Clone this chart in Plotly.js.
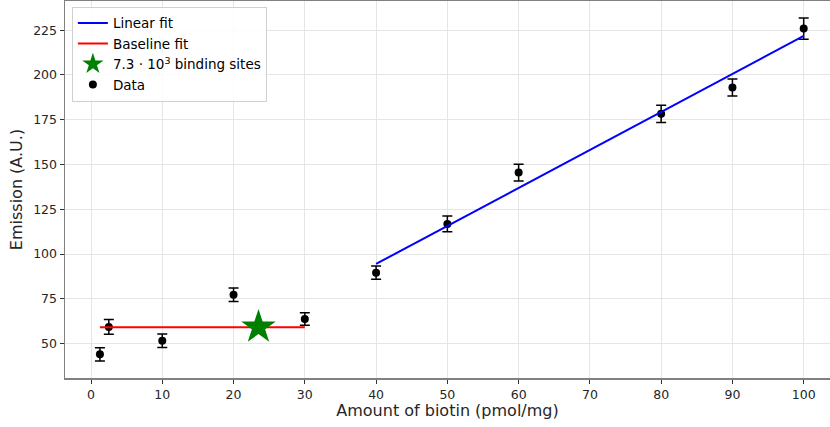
<!DOCTYPE html>
<html>
<head>
<meta charset="utf-8">
<script src="https://cdn.plot.ly/plotly-3.0.1.min.js"></script>
<style>html,body{margin:0;padding:0;background:#fff;}#chart{width:830px;height:427px;}</style>
</head>
<body>
<div id="chart"></div>
<script>
// Data
const biotin = [1.25, 2.5, 10, 20, 30, 40, 50, 60, 80, 90, 100];
const emission = [44.0, 59.3, 51.6, 77.3, 63.7, 89.6, 116.8, 145.5, 178.3, 193.0, 225.9];
const emissionErr = [3.7, 4.1, 3.8, 3.8, 3.5, 3.7, 4.4, 4.7, 4.8, 4.7, 5.9];
const linearFitX = [40, 100];
const linearFitY = [94.5, 221.8];
const baselineFitX = [1.25, 30];
const baselineFitY = [59.2, 59.2];
const bindingX = [23.5];
const bindingY = [59.2];
const xTicks = [0, 10, 20, 30, 40, 50, 60, 70, 80, 90, 100];
const yTicks = [50, 75, 100, 125, 150, 175, 200, 225];

const font = 'DejaVu Sans, Liberation Sans, sans-serif';

const traces = [
  {
    x: biotin, y: emission, type: 'scatter', mode: 'markers', name: 'Data',
    legendrank: 4,
    marker: {color: '#000000', size: 8},
    error_y: {type: 'data', array: emissionErr, visible: true, color: '#000000', thickness: 1.5, width: 5}
  },
  {
    x: linearFitX, y: linearFitY, type: 'scatter', mode: 'lines', name: 'Linear fit',
    legendrank: 1,
    line: {color: '#0000ff', width: 2}
  },
  {
    x: baselineFitX, y: baselineFitY, type: 'scatter', mode: 'lines', name: 'Baseline fit',
    legendrank: 2,
    line: {color: '#ff0000', width: 2}
  },
  {
    x: bindingX, y: bindingY, type: 'scatter', mode: 'markers',
    name: '7.3 · 10<sup>3</sup> binding sites',
    legendrank: 3,
    marker: {color: '#008000', size: 26, symbol: 'star', line: {width: 0}}
  }
];

const layout = {
  width: 830, height: 427,
  margin: {l: 65, r: 0, t: 1, b: 49},
  paper_bgcolor: '#ffffff', plot_bgcolor: '#ffffff',
  font: {family: font, size: 13, color: '#262626'},
  showlegend: true,
  legend: {
    x: 0.009, y: 0.985, xanchor: 'left', yanchor: 'top',
    bgcolor: 'rgba(255,255,255,0.85)', bordercolor: '#d0d0d0', borderwidth: 1,
    font: {family: font, size: 13.5, color: '#000000'},
    tracegroupgap: 0, itemwidth: 30
  },
  xaxis: {
    range: [-3.65, 103.69],
    tickvals: xTicks, ticktext: xTicks.map(String),
    showgrid: true, gridcolor: '#e5e5e5', gridwidth: 1,
    zeroline: false,
    showline: true, linecolor: '#808080', linewidth: 1.5, mirror: true,
    ticks: 'outside', ticklen: 4, tickcolor: '#333333', tickwidth: 1,
    tickfont: {family: font, size: 12.5, color: '#262626'},
    title: {text: 'Amount of biotin (pmol/mg)', font: {family: font, size: 16, color: '#262626'}, standoff: 4}
  },
  yaxis: {
    range: [30.8, 241.3],
    tickvals: yTicks, ticktext: yTicks.map(String),
    showgrid: true, gridcolor: '#e5e5e5', gridwidth: 1,
    zeroline: false,
    showline: true, linecolor: '#808080', linewidth: 1.5, mirror: false,
    ticks: 'outside', ticklen: 4, tickcolor: '#333333', tickwidth: 1,
    tickfont: {family: font, size: 12.5, color: '#262626'},
    title: {text: 'Emission (A.U.)', font: {family: font, size: 16, color: '#262626'}, standoff: 6}
  }
};

Plotly.newPlot('chart', traces, layout, {staticPlot: true, displayModeBar: false});
</script>
</body>
</html>
